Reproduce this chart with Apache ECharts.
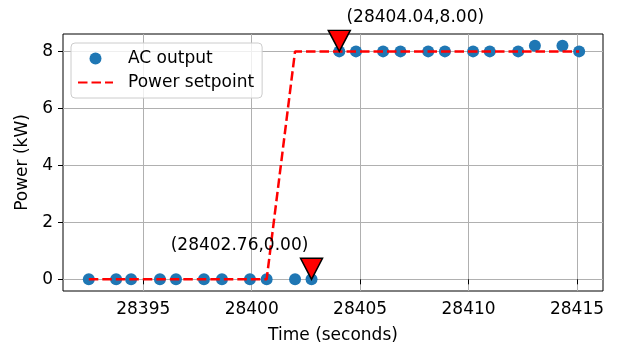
<!DOCTYPE html>
<html>
<head>
<meta charset="utf-8">
<script src="https://cdn.jsdelivr.net/npm/echarts@6/dist/echarts.min.js"></script>
<style>
  html, body { margin: 0; padding: 0; background: #fff; }
  #chart { width: 619px; height: 349px; }
</style>
</head>
<body>
<div id="chart"></div>
<script>
// Sample timestamps (seconds) shared by both traces
const times = [28392.49, 28393.75, 28394.44, 28395.77, 28396.51, 28397.80, 28398.63,
  28399.92, 28400.69, 28402.00, 28402.76, 28404.04, 28404.81, 28406.06, 28406.86,
  28408.14, 28408.91, 28410.21, 28410.98, 28412.29, 28413.06, 28414.33, 28415.10];
// Measured AC output (kW)
const acOutput = [0, 0, 0, 0, 0, 0, 0, 0, 0, 0, 0, 8, 8, 8, 8, 8, 8, 8, 8, 8, 8.2, 8.2, 8];
// Commanded power setpoint (kW)
const setpoint = [0, 0, 0, 0, 0, 0, 0, 0, 0, 8, 8, 8, 8, 8, 8, 8, 8, 8, 8, 8, 8, 8, 8];
// Highlighted events: response start and settle
const eventTimes = [28402.76, 28404.04];
const eventValues = [0, 8];
// Axis ticks
const xTicks = [28395, 28400, 28405, 28410, 28415];
const yTicks = [0, 2, 4, 6, 8];
// Label offsets for the event annotations
const eventLabelOffsets = [[-72, 1], [76, 1]];

const FONT = 'DejaVu Sans';
const FS = 17;
const chart = echarts.init(document.getElementById('chart'), null, { renderer: 'canvas' });

const acData = times.map((t, i) => [t, acOutput[i]]);
const spData = times.map((t, i) => [t, setpoint[i]]);
const eventData = eventTimes.map((t, i) => ({
  value: [t, eventValues[i]],
  label: { offset: eventLabelOffsets[i] }
}));

chart.setOption({
  animation: false,
  textStyle: { fontFamily: FONT },
  grid: {
    left: 63, right: 16, top: 34, bottom: 56,
    show: true, borderColor: '#000', borderWidth: 1, backgroundColor: 'transparent'
  },
  legend: {
    orient: 'vertical',
    left: 71, top: 43,
    padding: [7, 8, 7, 6],
    itemWidth: 35, itemHeight: 12, itemGap: 7,
    backgroundColor: 'rgba(255,255,255,0.8)',
    borderColor: '#cccccc', borderWidth: 1, borderRadius: 4,
    textStyle: { fontFamily: FONT, fontSize: FS, color: '#000', padding: [0, 0, 0, 10] },
    data: [
      { name: 'AC output', icon: 'circle' },
      { name: 'Power setpoint', itemStyle: { opacity: 0 } }
    ]
  },
  xAxis: {
    type: 'value',
    min: 28391.3, max: 28416.2,
    name: 'Time (seconds)', nameLocation: 'middle', nameGap: 36,
    nameTextStyle: { fontFamily: FONT, fontSize: FS, color: '#000' },
    axisLine: { show: false },
    axisTick: { show: true, length: 5, customValues: xTicks, lineStyle: { color: '#000', width: 1 } },
    axisLabel: {
      customValues: xTicks, fontFamily: FONT, fontSize: FS, color: '#000', margin: 10,
      formatter: v => String(v)
    },
    splitLine: { show: true, lineStyle: { color: '#b0b0b0', width: 1 } }
  },
  yAxis: {
    type: 'value',
    min: -0.41, max: 8.61,
    name: 'Power (kW)', nameLocation: 'middle', nameGap: 30, nameRotate: 90,
    nameTextStyle: { fontFamily: FONT, fontSize: FS, color: '#000' },
    axisLine: { show: false },
    axisTick: { show: true, length: 5, customValues: yTicks, lineStyle: { color: '#000', width: 1 } },
    axisLabel: {
      customValues: yTicks, fontFamily: FONT, fontSize: FS, color: '#000', margin: 10,
      formatter: v => String(v)
    },
    splitLine: { show: true, lineStyle: { color: '#b0b0b0', width: 1 } }
  },
  series: [
    {
      name: 'AC output',
      type: 'scatter',
      data: acData,
      symbol: 'circle',
      symbolSize: 12,
      itemStyle: { color: '#1f77b4', opacity: 1 },
      z: 2
    },
    {
      name: 'Power setpoint',
      type: 'line',
      data: spData,
      showSymbol: false,
      symbol: 'none',
      itemStyle: { color: '#ff0000' },
      lineStyle: { color: '#ff0000', width: 2.5, type: [9.5, 4] },
      z: 3
    },
    {
      name: 'events',
      type: 'scatter',
      data: eventData,
      symbol: 'path://M0,0 L22,0 L11,21 Z',
      symbolSize: [22, 21],
      symbolOffset: [0, '-50%'],
      itemStyle: { color: '#ff0000', borderColor: '#000', borderWidth: 1.5, opacity: 1 },
      label: {
        show: true,
        position: 'top',
        fontFamily: FONT, fontSize: FS, color: '#000',
        formatter: p => '(' + p.value[0].toFixed(2) + ',' + p.value[1].toFixed(2) + ')'
      },
      z: 4
    }
  ]
});
</script>
</body>
</html>
